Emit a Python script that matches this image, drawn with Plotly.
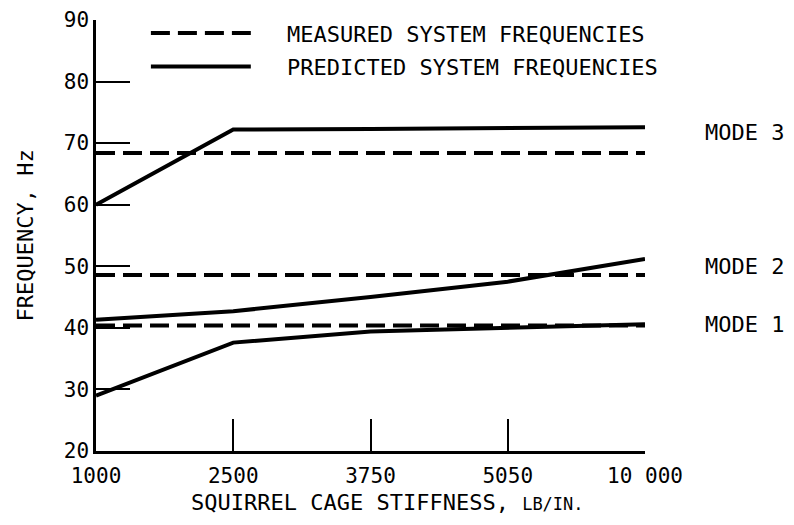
import plotly.graph_objects as go

x_labels = ["1000", "2500", "3750", "5050", "10 000"]
x_pos = [0, 1, 2, 3, 4]

mode1_pred = [29.0, 37.6, 39.4, 40.0, 40.6]
mode2_pred = [41.3, 42.7, 45.0, 47.5, 51.2]
mode3_pred = [60.0, 72.2, 72.3, 72.4, 72.6]

mode1_meas = [40.4, 40.4, 40.4, 40.4, 40.4]
mode2_meas = [48.6, 48.6, 48.6, 48.6, 48.6]
mode3_meas = [68.4, 68.4, 68.4, 68.4, 68.4]

mode_names = ["MODE 1", "MODE 2", "MODE 3"]
FONT = "DejaVu Sans Mono, monospace"

fig = go.Figure()
for ys in [mode1_meas, mode2_meas, mode3_meas]:
    fig.add_trace(go.Scatter(x=x_pos, y=ys, mode="lines",
                             line=dict(color="black", width=4, dash="19px,8px"),
                             showlegend=False, hoverinfo="skip"))
for ys in [mode1_pred, mode2_pred, mode3_pred]:
    fig.add_trace(go.Scatter(x=x_pos, y=ys, mode="lines",
                             line=dict(color="black", width=4),
                             showlegend=False, hoverinfo="skip"))

# mode labels at right
label_y = [mode1_pred[-1], (mode2_meas[-1] + mode2_pred[-1]) / 2, mode3_pred[-1]]
label_shift = [0, 0, -5]
for name, yv, ys in zip(mode_names, label_y, label_shift):
    fig.add_annotation(x=1.0, xref="paper", y=yv, yref="y", text=name,
                       showarrow=False, xanchor="left", yanchor="middle", xshift=58, yshift=ys,
                       font=dict(family=FONT, size=22, color="black"))

# legend drawn manually
fig.add_shape(type="line", xref="paper", yref="paper", x0=0.1, x1=0.282, y0=0.97, y1=0.97,
              line=dict(color="black", width=4, dash="19px,8px"))
fig.add_shape(type="line", xref="paper", yref="paper", x0=0.1, x1=0.282, y0=0.892, y1=0.892,
              line=dict(color="black", width=4))
fig.add_annotation(x=0.345, xref="paper", y=0.966, yref="paper", text="MEASURED SYSTEM FREQUENCIES",
                   showarrow=False, xanchor="left", yanchor="middle",
                   font=dict(family=FONT, size=22, color="black"))
fig.add_annotation(x=0.345, xref="paper", y=0.89, yref="paper", text="PREDICTED SYSTEM FREQUENCIES",
                   showarrow=False, xanchor="left", yanchor="middle",
                   font=dict(family=FONT, size=22, color="black"))

# axis titles
fig.add_annotation(x=0.5, xref="paper", y=0, yref="paper", yanchor="middle", yshift=-51, xshift=17,
                   text="SQUIRREL CAGE STIFFNESS, <span style='font-size:17px'>LB/IN.</span>",
                   showarrow=False, font=dict(family=FONT, size=22, color="black"))
fig.add_annotation(x=0, xref="paper", y=0.5, yref="paper", xanchor="center", yanchor="middle",
                   xshift=-71, textangle=-90, text="FREQUENCY, Hz",
                   showarrow=False, font=dict(family=FONT, size=22, color="black"))

fig.update_xaxes(range=[0, 4], tickvals=x_pos, ticktext=x_labels, automargin=False,
                 ticks="inside", ticklen=32, tickwidth=2, tickcolor="black", ticklabelstandoff=4,
                 showline=True, linecolor="black", linewidth=2.5, showgrid=False, zeroline=False,
                 tickfont=dict(family=FONT, size=21, color="black"))
fig.update_yaxes(range=[20, 90], dtick=10, automargin=False,
                 ticks="inside", ticklen=34, tickwidth=2, tickcolor="black",
                 showline=True, linecolor="black", linewidth=2.5, showgrid=False, zeroline=False,
                 tickfont=dict(family=FONT, size=21, color="black"))

fig.update_layout(width=786, height=517, plot_bgcolor="white", paper_bgcolor="white",
                  margin=dict(l=88, r=149, t=12, b=74), showlegend=False)

fig.write_html("out.html")
